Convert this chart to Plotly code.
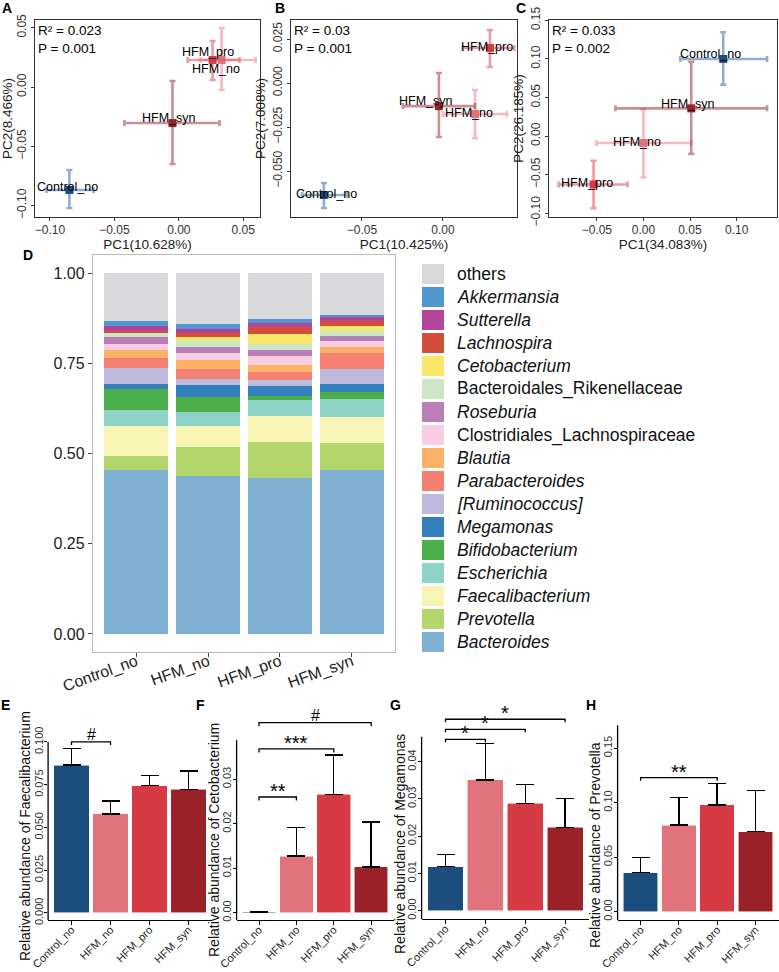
import plotly.graph_objects as go

W, H = 779, 972
FONT = "Liberation Sans, Arial, Helvetica, sans-serif"

groups = ["Control_no", "HFM_no", "HFM_pro", "HFM_syn"]
group_colors = ["#1b4e7d", "#e0737b", "#d63a45", "#9a2128"]
error_colors = ["rgba(70,120,175,0.6)", "rgba(236,140,148,0.6)",
                "rgba(222,90,100,0.6)", "rgba(160,50,58,0.55)"]

# ---------------- PCoA panels A, B, C ----------------
pcoa_titles_x = ["PC1(10.628%)", "PC1(10.425%)", "PC1(34.083%)"]
pcoa_titles_y = ["PC2(8.466%)", "PC2(7.008%)", "PC2(26.185%)"]
pcoa_r2 = ["0.023", "0.03", "0.033"]
pcoa_p = ["0.001", "0.001", "0.002"]

# panel A
a_x = [-0.0849, 0.0332, 0.0262, -0.0049]
a_x_lo = [-0.1027, 0.0168, 0.0068, -0.0422]
a_x_hi = [-0.0662, 0.0596, 0.0471, 0.0316]
a_y = [-0.0868, 0.0228, 0.0228, -0.0304]
a_y_lo = [-0.1020, -0.0025, 0.0059, -0.0649]
a_y_hi = [-0.0700, 0.0497, 0.0388, 0.0051]
# panel B
b_x = [-0.0735, 0.0198, 0.0290, -0.0025]
b_x_lo = [-0.0870, 0.0000, 0.0123, -0.0247]
b_x_hi = [-0.0593, 0.0395, 0.0440, 0.0198]
b_y = [-0.0636, -0.0176, 0.0199, -0.0131]
b_y_lo = [-0.0710, -0.0313, 0.0091, -0.0307]
b_y_hi = [-0.0568, -0.0040, 0.0301, 0.0057]
# panel C
c_x = [0.0856, 0.0000, -0.0535, 0.0513]
c_x_lo = [0.0396, -0.0503, -0.0909, -0.0300]
c_x_hi = [0.1326, 0.0513, -0.0171, 0.1326]
c_y = [0.1000, -0.0090, -0.0628, 0.0359]
c_y_lo = [0.0667, -0.0538, -0.0936, -0.0231]
c_y_hi = [0.1346, 0.0346, -0.0320, 0.0962]

pcoa_xticks = [[-0.10, -0.05, 0.00, 0.05], [-0.05, 0.00], [-0.05, 0.00, 0.05, 0.10]]
pcoa_xticktext = [["−0.10", "−0.05", "0.00", "0.05"], ["−0.05", "0.00"], ["−0.05", "0.00", "0.05", "0.10"]]
pcoa_yticks = [[-0.10, -0.05, 0.00, 0.05], [-0.050, -0.025, 0.000, 0.025],
               [-0.10, -0.05, 0.00, 0.05, 0.10, 0.15]]
pcoa_yticktext = [["−0.10", "−0.05", "0.00", "0.05"], ["−0.050", "−0.025", "0.000", "0.025"],
                  ["−0.10", "−0.05", "0.00", "0.05", "0.10", "0.15"]]

# ---------------- Panel D: stacked composition ----------------
stack_genera = ["Bacteroides", "Prevotella", "Faecalibacterium", "Escherichia",
                "Bifidobacterium", "Megamonas", "[Ruminococcus]", "Parabacteroides",
                "Blautia", "Clostridiales_Lachnospiraceae", "Roseburia",
                "Bacteroidales_Rikenellaceae", "Cetobacterium", "Lachnospira",
                "Sutterella", "Akkermansia", "others"]
genus_colors = ["#80b1d3", "#b3d66c", "#f8f5b4", "#8dd3c7", "#4bae4a", "#3480bc",
                "#bdbadb", "#f48074", "#fbb266", "#f6cde2", "#bb7fb8", "#cce6c6",
                "#f8e76a", "#d24e3a", "#b3449b", "#5096d0", "#d9d9db"]
italic_genus = [True, True, True, True, True, True, True, True, True, False, True,
                False, True, True, True, True, False]
bacteroides = [0.455, 0.439, 0.433, 0.455]
prevotella = [0.037, 0.080, 0.098, 0.074]
faecalibacterium = [0.085, 0.058, 0.074, 0.072]
escherichia = [0.044, 0.037, 0.044, 0.051]
bifidobacterium = [0.058, 0.042, 0.011, 0.018]
megamonas = [0.013, 0.034, 0.026, 0.023]
ruminococcus = [0.046, 0.017, 0.018, 0.042]
parabacteroides = [0.028, 0.028, 0.021, 0.043]
blautia = [0.021, 0.023, 0.021, 0.017]
clostridiales_lachno = [0.016, 0.020, 0.023, 0.017]
roseburia = [0.019, 0.016, 0.017, 0.014]
rikenellaceae = [0.012, 0.018, 0.018, 0.014]
cetobacterium = [0.0002, 0.012, 0.027, 0.012]
lachnospira = [0.006, 0.010, 0.019, 0.014]
sutterella = [0.014, 0.011, 0.011, 0.014]
akkermansia = [0.012, 0.014, 0.012, 0.004]
others = [0.134, 0.141, 0.127, 0.116]
stack_values = [bacteroides, prevotella, faecalibacterium, escherichia, bifidobacterium,
                megamonas, ruminococcus, parabacteroides, blautia, clostridiales_lachno,
                roseburia, rikenellaceae, cetobacterium, lachnospira, sutterella,
                akkermansia, others]

# ---------------- Panels E-H: relative abundance bars ----------------
bar_titles = ["Relative abundance of Faecalibacterium", "Relative abundance of Cetobacterium",
              "Relative abundance of Megamonas", "Relative abundance of Prevotella"]
faecali_mean = [0.0865, 0.0579, 0.0744, 0.0723]
faecali_sd = [0.0098, 0.0076, 0.0061, 0.0107]
ceto_mean = [0.0002, 0.0127, 0.0266, 0.0103]
ceto_sd = [0.0001, 0.0064, 0.0088, 0.0101]
mega_mean = [0.0118, 0.0351, 0.0288, 0.0224]
mega_sd = [0.0033, 0.0098, 0.0051, 0.0078]
prev_mean = [0.0358, 0.0795, 0.0979, 0.0734]
prev_sd = [0.0137, 0.0255, 0.0199, 0.0376]
bar_means = [faecali_mean, ceto_mean, mega_mean, prev_mean]
bar_sds = [faecali_sd, ceto_sd, mega_sd, prev_sd]
bar_yticks = [[0, 0.025, 0.05, 0.075, 0.1], [0, 0.01, 0.02, 0.03],
              [0, 0.01, 0.02, 0.03, 0.04], [0, 0.05, 0.10, 0.15]]
bar_yticktext = [["0.000", "0.025", "0.050", "0.075", "0.100"], ["0.00", "0.01", "0.02", "0.03"],
                 ["0.00", "0.01", "0.02", "0.03", "0.04"], ["0.00", "0.05", "0.10", "0.15"]]
# significance brackets: (group index a, group index b, height, label)
sig_e = [(0, 1, 0.100, "#")]
sig_f = [(0, 1, 0.0260, "**"), (0, 2, 0.0368, "***"), (0, 3, 0.0427, "#")]
sig_g = [(0, 1, 0.0460, "*"), (0, 2, 0.0487, "*"), (0, 3, 0.0514, "*")]
sig_h = [(0, 2, 0.123, "**")]
sig_all = [sig_e, sig_f, sig_g, sig_h]

# ---------------- layout geometry (pixels) ----------------
def fx(px):
    return px / W


def fy(py):
    return 1 - py / H


fig = go.Figure()
annotations = []
shapes = []
layout = dict(width=W, height=H, margin=dict(l=0, r=0, t=0, b=0, autoexpand=False),
              template="none",
              paper_bgcolor="white", plot_bgcolor="white", showlegend=False,
              barmode="stack", font=dict(family=FONT, color="#222"))


def panel_letter(letter, px, py):
    annotations.append(dict(xref="paper", yref="paper", x=fx(px), y=fy(py), text=f"<b>{letter}</b>",
                            xanchor="center", yanchor="middle", showarrow=False,
                            font=dict(size=14, color="black")))


# ---- A, B, C ----
pcoa_data = [
    (a_x, a_x_lo, a_x_hi, a_y, a_y_lo, a_y_hi),
    (b_x, b_x_lo, b_x_hi, b_y, b_y_lo, b_y_hi),
    (c_x, c_x_lo, c_x_hi, c_y, c_y_lo, c_y_hi),
]
pcoa_dom_x = [(35, 260), (291, 517), (549, 777)]
pcoa_xrange = [[-0.1116, 0.063], [-0.0938, 0.0457], [-0.1013, 0.1433]]
pcoa_yrange = [[-0.1096, 0.0565], [-0.0761, 0.0358], [-0.105, 0.1505]]
label_shift = [
    [(-2, 3), (-6, -9), (-5, 8), (-4, 5)],
    [(3, 1), (-6, 1), (-3, 1), (-13, 5)],
    [(-13, 5), (-6, 1), (-7, 1), (-3, 4)],
]
panel_letters_top = [("A", 7), ("B", 280), ("C", 521)]

for p in range(3):
    n = p + 1
    xs, xlo, xhi, ys, ylo, yhi = pcoa_data[p]
    xa = "x" if n == 1 else f"x{n}"
    ya = "y" if n == 1 else f"y{n}"
    for g in range(4):
        fig.add_trace(go.Scatter(
            x=[xs[g]], y=[ys[g]], mode="markers", xaxis=xa, yaxis=ya,
            marker=dict(symbol="square", size=8, color=group_colors[g]),
            error_x=dict(type="data", symmetric=False, array=[xhi[g] - xs[g]],
                         arrayminus=[xs[g] - xlo[g]], color=error_colors[g],
                         thickness=2.6, width=3),
            error_y=dict(type="data", symmetric=False, array=[yhi[g] - ys[g]],
                         arrayminus=[ys[g] - ylo[g]], color=error_colors[g],
                         thickness=2.6, width=3),
            hoverinfo="skip"))
        dx, dy = label_shift[p][g]
        annotations.append(dict(x=xs[g], y=ys[g], xref=xa, yref=ya, text=groups[g],
                                showarrow=False, xshift=dx, yshift=dy,
                                font=dict(size=12.5, color="black", family=FONT)))
    x0, x1 = pcoa_dom_x[p]
    axis_common = dict(showline=True, mirror=True, linecolor="#333", linewidth=1.3,
                       showgrid=False, zeroline=False, ticks="outside", ticklen=3,
                       tickcolor="#333", tickfont=dict(size=12, color="#333"),
                       automargin=False)
    layout["xaxis" if n == 1 else f"xaxis{n}"] = dict(
        axis_common, domain=[fx(x0), fx(x1)], range=pcoa_xrange[p], anchor=ya,
        tickvals=pcoa_xticks[p], ticktext=pcoa_xticktext[p], ticklabelstandoff=-2,
        title=dict(text=pcoa_titles_x[p], font=dict(size=13.5, color="#222"), standoff=0))
    layout["yaxis" if n == 1 else f"yaxis{n}"] = dict(
        axis_common, domain=[fy(217), fy(20)], range=pcoa_yrange[p], anchor=xa,
        tickvals=pcoa_yticks[p], ticktext=pcoa_yticktext[p], tickangle=-90,
        title=dict(text=pcoa_titles_y[p], font=dict(size=13.5, color="#222"), standoff=2))
    annotations.append(dict(xref=f"{xa} domain", yref=f"{ya} domain", x=0.0, y=1.0,
                            xanchor="left", yanchor="top", xshift=1, yshift=-1,
                            text=f"R² = {pcoa_r2[p]}<br>P = {pcoa_p[p]}", align="left",
                            showarrow=False, font=dict(size=13.5, color="black")))
    letter, lx = panel_letters_top[p]
    panel_letter(letter, lx, 8)

# ---- D: stacked bars ----
for gname, col, vals in zip(stack_genera, genus_colors, stack_values):
    fig.add_trace(go.Bar(x=groups, y=vals, name=gname, marker=dict(color=col, line=dict(width=0)),
                         width=0.89, xaxis="x4", yaxis="y4", hoverinfo="skip"))
layout["xaxis4"] = dict(domain=[fx(93), fx(395)], anchor="y4", type="category",
                        range=[-0.6, 3.6], showline=True, mirror=True, linecolor="#bdbdbd",
                        linewidth=1.3, showgrid=False, zeroline=False, ticks="outside",
                        ticklen=4, tickcolor="#444", tickangle=-20, automargin=False,
                        ticklabelstandoff=-11, tickfont=dict(size=16, color="#222"))
layout["yaxis4"] = dict(domain=[fy(652), fy(255)], anchor="x4", range=[-0.05, 1.05],
                        showline=True, mirror=True, linecolor="#bdbdbd", linewidth=1.3,
                        showgrid=False, zeroline=False, ticks="outside", ticklen=4,
                        tickcolor="#444", tickvals=[0, 0.25, 0.5, 0.75, 1.0],
                        ticktext=["0.00", "0.25", "0.50", "0.75", "1.00"], automargin=False,
                        tickfont=dict(size=16, color="#222"))
panel_letter("D", 28, 255)
# legend for D (top entry = top of stack)
for i, (gname, col, it) in enumerate(zip(stack_genera[::-1], genus_colors[::-1], italic_genus[::-1])):
    cy = 274 + 23 * i
    shapes.append(dict(type="rect", xref="paper", yref="paper", x0=fx(422), x1=fx(444),
                       y0=fy(cy + 10), y1=fy(cy - 10), fillcolor=col, line=dict(width=0)))
    annotations.append(dict(xref="paper", yref="paper", x=fx(455), y=fy(cy), xanchor="left",
                            yanchor="middle", text=f"<i>{gname}</i>" if it else gname,
                            showarrow=False, font=dict(size=17.5, color="#111")))

# ---- E-H ----
bar_cat_dom = [(48.1, 211.9), (236.6, 393.6), (421.6, 589.0), (617.6, 778.5)]
bar_ydom = [(725, 920), (708, 920), (703, 919), (722, 920)]
bar_yrange = [[-0.0041, 0.1099], [-0.00164, 0.0460], [-0.00223, 0.05576], [-0.0076, 0.1740]]
bar_axis_top = [0.100, 0.0388, 0.0467, 0.171]
bar_tick_drop = [0.0018, 0.0008, 0.0008, 0.0028]
bar_letters = [("E", 5), ("F", 200), ("G", 395), ("H", 591)]
bar_title_pos = [(25, 836), (214, 840), (400, 844), (595, 845)]

for k in range(4):
    n = k + 5
    xa, ya = f"x{n}", f"y{n}"
    fig.add_trace(go.Bar(x=groups, y=bar_means[k], xaxis=xa, yaxis=ya, width=0.9,
                         marker=dict(color=group_colors, line=dict(color="rgba(255,255,255,0.7)", width=0.8)),
                         error_y=dict(type="data", symmetric=False, array=bar_sds[k],
                                      arrayminus=[0] * 4, color="black", thickness=1.4, width=9),
                         hoverinfo="skip"))
    for (ga, gb, hgt, lab) in sig_all[k]:
        d = bar_tick_drop[k]
        fig.add_trace(go.Scatter(x=[groups[ga], groups[ga], groups[gb], groups[gb]],
                                 y=[hgt - d, hgt, hgt, hgt - d], mode="lines", xaxis=xa, yaxis=ya,
                                 line=dict(color="black", width=1.3), hoverinfo="skip"))
        is_star = "*" in lab
        annotations.append(dict(xref=xa, yref=ya, x=(ga + gb) / 2, y=hgt, text=lab,
                                yanchor="bottom", showarrow=False, yshift=-7 if is_star else -3,
                                font=dict(size=20 if is_star else 16, color="black")))
    x0, x1 = bar_cat_dom[k]
    y0, y1 = bar_ydom[k]
    layout[f"xaxis{n}"] = dict(domain=[fx(x0), fx(x1)], anchor=ya, type="category",
                               range=[-0.6, 3.6], showline=True, linecolor="black",
                               linewidth=1.3, showgrid=False, zeroline=False, ticks="outside",
                               ticklen=4, tickcolor="black", tickangle=-45, automargin=False,
                               ticklabelstandoff=-6, tickfont=dict(size=11, color="#222"))
    layout[f"yaxis{n}"] = dict(domain=[fy(y1), fy(y0)], anchor=xa, range=bar_yrange[k],
                               showline=False, showgrid=False, zeroline=False, ticks="outside",
                               ticklen=3, tickcolor="black", tickangle=-90, automargin=False,
                               ticklabelstandoff=-3,
                               tickvals=bar_yticks[k], ticktext=bar_yticktext[k],
                               tickfont=dict(size=11, color="#333"))
    tx, ty = bar_title_pos[k]
    annotations.append(dict(xref="paper", yref="paper", x=fx(tx), y=fy(ty), text=bar_titles[k],
                            textangle=-90, xanchor="center", yanchor="middle", showarrow=False,
                            font=dict(size=14, color="#111")))
    shapes.append(dict(type="line", xref=f"{xa} domain", yref=ya, x0=0, x1=0,
                       y0=bar_yrange[k][0], y1=bar_axis_top[k],
                       line=dict(color="black", width=1.3)))
    letter, lx = bar_letters[k]
    panel_letter(letter, lx, 705)

layout["annotations"] = annotations
layout["shapes"] = shapes
fig.update_layout(**layout)
fig.write_html("out.html", config={"displayModeBar": False},
               post_script="document.body.style.margin='0px';document.body.style.overflow='hidden';")
